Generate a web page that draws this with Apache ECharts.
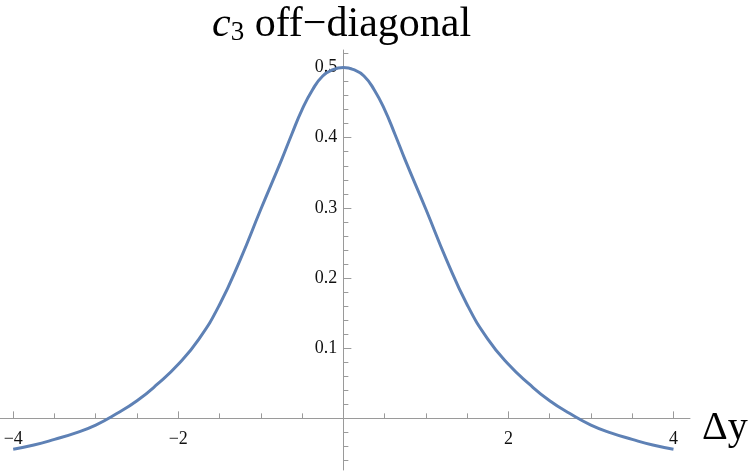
<!DOCTYPE html>
<html>
<head>
    <meta charset="utf-8">
    <title>c3 off-diagonal</title>
    <script src="https://cdn.jsdelivr.net/npm/echarts@6/dist/echarts.min.js"></script>
</head>
<body style="margin:0">
    <div id="main" style="width:750px;height:473px"></div>
    <script type="text/javascript">
        // curve samples
        var dyValues = [-4, -3.75, -3.5, -3.25, -3, -2.75, -2.5, -2.25, -2, -1.75, -1.5, -1.25, -1, -0.75, -0.625, -0.5, -0.375, -0.25, -0.125,
                        0, 0.125, 0.25, 0.375, 0.5, 0.625, 0.75, 1, 1.25, 1.5, 1.75, 2, 2.25, 2.5, 2.75, 3, 3.25, 3.5, 3.75, 4];
        var c3Values = [-0.044, -0.038, -0.030, -0.021, -0.0095, 0.0065, 0.025, 0.049, 0.077, 0.113, 0.162, 0.226, 0.298, 0.368, 0.405, 0.440, 0.468, 0.488, 0.497,
                        0.5, 0.497, 0.488, 0.468, 0.440, 0.405, 0.368, 0.298, 0.226, 0.162, 0.113, 0.077, 0.049, 0.025, 0.0065, -0.0095, -0.021, -0.030, -0.038, -0.044];
        // ticks
        var xLabels = [-4, -2, 2, 4];
        var xMinorTicks = [-3.5, -3, -2.5, -1.5, -1, -0.5, 0.5, 1, 1.5, 2.5, 3, 3.5];
        var yLabels = [0.1, 0.2, 0.3, 0.4, 0.5];
        var yMinorTicks = [-0.06, -0.04, -0.02, 0.02, 0.04, 0.06, 0.08, 0.12, 0.14, 0.16, 0.18, 0.22, 0.24, 0.26, 0.28,
                           0.32, 0.34, 0.36, 0.38, 0.42, 0.44, 0.46, 0.48, 0.52];

        var xMin = -4.16, xMax = 4.2, yMin = -0.0736, yMax = 0.525;
        var gridLeft = 0, gridRight = 60, gridTop = 50, gridBottom = 3;
        var gridW = 750 - gridLeft - gridRight, gridH = 473 - gridTop - gridBottom;
        // axes cross at the origin: shift them in from the grid edges
        var yAxisOffset = -gridW * (0 - xMin) / (xMax - xMin);
        var xAxisOffset = -gridH * (0 - yMin) / (yMax - yMin);

        var axisGray = '#9a9a9a';
        var serif = 'Liberation Serif';
        var chart = echarts.init(document.getElementById('main'));

        var points = [];
        for (var i = 0; i < dyValues.length; i++) {
            points.push([dyValues[i], c3Values[i]]);
        }

        function minus(v) {
            return v < 0 ? '\u2212' + Math.abs(v) : String(v);
        }

        chart.setOption({
            animation: false,
            title: {
                text: '{c|c}{s|3}{t| off\u2212diagonal}',
                left: 207,
                top: -1,
                textStyle: {
                    rich: {
                        c: { fontFamily: serif, fontStyle: 'italic', fontWeight: 'normal', fontSize: 42, color: '#000' },
                        s: { fontFamily: serif, fontWeight: 'normal', fontSize: 27, color: '#000', verticalAlign: 'bottom' },
                        t: { fontFamily: serif, fontWeight: 'normal', fontSize: 42, color: '#000' }
                    }
                }
            },
            grid: { left: gridLeft, right: gridRight, top: gridTop, bottom: gridBottom, containLabel: false, outerBoundsMode: 'none' },
            xAxis: [{
                type: 'value',
                min: xMin,
                max: xMax,
                position: 'bottom',
                offset: xAxisOffset,
                axisLine: { onZero: false, lineStyle: { color: axisGray, width: 1 } },
                axisTick: { inside: true, length: 7, customValues: xLabels, lineStyle: { color: axisGray } },
                axisLabel: {
                    customValues: xLabels, margin: 12, fontFamily: serif, fontSize: 18, color: '#111',
                    formatter: minus
                },
                splitLine: { show: false },
                name: '\u0394y',
                nameLocation: 'end',
                nameGap: 12,
                nameTextStyle: { fontFamily: serif, fontSize: 40, color: '#000', verticalAlign: 'top', lineHeight: 20 }
            }, {
                type: 'value',
                min: xMin,
                max: xMax,
                position: 'bottom',
                offset: xAxisOffset,
                axisLine: { show: false, onZero: false },
                axisTick: { inside: true, length: 5, customValues: xMinorTicks, lineStyle: { color: axisGray } },
                axisLabel: { show: false },
                splitLine: { show: false }
            }],
            yAxis: [{
                type: 'value',
                min: yMin,
                max: yMax,
                position: 'left',
                offset: yAxisOffset,
                axisLine: { show: true, onZero: false, lineStyle: { color: axisGray, width: 1 } },
                axisTick: { show: true, inside: true, length: 8, customValues: yLabels, lineStyle: { color: axisGray } },
                axisLabel: {
                    customValues: yLabels, margin: 6, fontFamily: serif, fontSize: 18, color: '#111',
                    formatter: function (v) { return v.toFixed(1); }
                },
                splitLine: { show: false }
            }, {
                type: 'value',
                min: yMin,
                max: yMax,
                position: 'left',
                offset: yAxisOffset,
                axisLine: { show: false, onZero: false },
                axisTick: { show: true, inside: true, length: 5, customValues: yMinorTicks, lineStyle: { color: axisGray } },
                axisLabel: { show: false },
                splitLine: { show: false }
            }],
            series: [{
                type: 'line',
                data: points,
                smooth: 0.5,
                symbol: 'none',
                lineStyle: { color: '#5e81b5', width: 3 }
            }]
        });
    </script>
</body>
</html>
